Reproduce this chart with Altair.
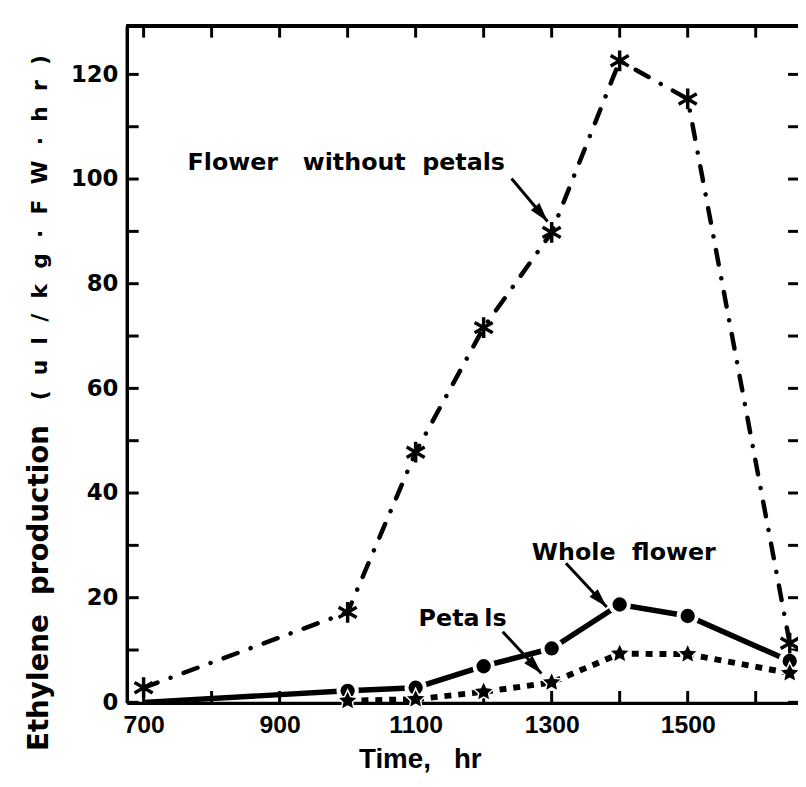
import math
import altair as alt
import pandas as pd

# ---------------- data ----------------
fwp_time = [700, 1000, 1100, 1200, 1300, 1400, 1500, 1650]
fwp_value = [2.8, 17.2, 47.8, 71.6, 89.8, 122.6, 115.3, 11.3]

whole_time = [700, 1000, 1100, 1200, 1300, 1400, 1500, 1650]
whole_value = [0, 2.2, 2.8, 6.9, 10.3, 18.7, 16.5, 7.9]
whole_marker = [False, True, True, True, True, True, True, True]

petals_time = [1000, 1100, 1200, 1300, 1400, 1500, 1650]
petals_value = [0.3, 0.6, 2.0, 3.8, 9.3, 9.2, 5.6]

x_tick_labels = [700, 900, 1100, 1300, 1500]
x_ticks = [700, 800, 900, 1000, 1100, 1200, 1300, 1400, 1500, 1600]
y_tick_labels = [0, 20, 40, 60, 80, 100, 120]
y_ticks = [0, 10, 20, 30, 40, 50, 60, 70, 80, 90, 100, 110, 120]

NB = "\u00a0"
SP = "\u2002\u2009"
ann_text = ["Flower" + NB * 3 + "without" + NB * 2 + "petals", "Whole" + NB * 2 + "flower", "Peta" + "\u2009" + "ls"]
ann_x = [998, 1406, 1169]
ann_y = [103.1, 28.5, 15.9]

arrow_x1 = [1241, 1321, 1228]
arrow_y1 = [100.1, 26.6, 13.5]
arrow_x2 = [1294, 1381, 1285]
arrow_y2 = [91.9, 18.2, 5.5]

ytitle_main = "Ethylene" + NB * 2 + "production"
ytitle_unit = SP.join(["(", "u", "l", "/", "k", "g", "·", "F", "W", "·", "h", "r", ")"])
xtitle = "Time," + NB * 3 + "hr"

# ---------------- layout ----------------
W, H = 678, 684
X_DOM = [675.3, 1662.2]
Y_DOM = [-0.1, 129.3]
PXX = W / (X_DOM[1] - X_DOM[0])
PXY = H / (Y_DOM[1] - Y_DOM[0])

xs = alt.Scale(domain=X_DOM, nice=False, zero=False)
ys = alt.Scale(domain=Y_DOM, nice=False, zero=False)

x_axis = alt.Axis(orient="bottom", values=x_tick_labels, ticks=False, tickSize=0, grid=False,
                  domainColor="black", domainWidth=3.5, labelFont="Liberation Sans",
                  labelFontWeight="bold", labelFontSize=25, labelColor="black",
                  labelPadding=22, labelBaseline="middle", labelFlush=False, format="d",
                  title=xtitle, titleFont="Liberation Sans", titleFontWeight="bold",
                  titleFontSize=28, titleColor="black", titleX=296, titleY=57,
                  titleBaseline="middle", titleAlign="center")
y_axis = alt.Axis(orient="left", values=y_tick_labels, ticks=False, tickSize=0, grid=False,
                  domainColor="black", domainWidth=3.5, labelFont="DejaVu Sans",
                  labelFontWeight="bold", labelFontSize=23, labelColor="black",
                  labelPadding=9, labelFlush=False, title=None)


def X(field):
    return alt.X(field, type="quantitative", scale=xs, axis=x_axis)


def Y(field):
    return alt.Y(field, type="quantitative", scale=ys, axis=y_axis)


fwp = pd.DataFrame({"t": fwp_time, "v": fwp_value})
whole = pd.DataFrame({"t": whole_time, "v": whole_value, "m": whole_marker})
pet = pd.DataFrame({"t": petals_time, "v": petals_value})
yt = pd.DataFrame({"v": y_ticks})
xt = pd.DataFrame({"t": x_ticks})
ann = pd.DataFrame({"text": ann_text, "t": ann_x, "v": ann_y})


def angle(x1, y1, x2, y2):
    dx = (x2 - x1) * PXX
    dy = -(y2 - y1) * PXY
    return (math.degrees(math.atan2(dx, -dy)) + 360) % 360


arr = pd.DataFrame({"x1": arrow_x1, "y1": arrow_y1, "x2": arrow_x2, "y2": arrow_y2})
arr["ang"] = [angle(a, b, c, d) for a, b, c, d in zip(arrow_x1, arrow_y1, arrow_x2, arrow_y2)]

# marker shapes (unit paths)
ASTER = "M0,-1L0,1M-0.87,-0.5L0.87,0.5M-0.87,0.5L0.87,-0.5"
pts = []
for k in range(10):
    r = 1.0 if k % 2 == 0 else 0.48
    a = math.radians(-90 + 36 * k)
    pts.append("%.3f,%.3f" % (r * math.cos(a), r * math.sin(a)))
STAR = "M" + "L".join(pts) + "Z"
HEAD = "M0,0L-0.55,1.9L0.55,1.9Z"

# ---------------- layers ----------------
left_ticks = alt.Chart(yt).mark_rule(color="black", strokeWidth=3).encode(
    y=Y("v"), x=alt.value(0), x2=alt.value(12))
right_ticks = alt.Chart(yt).mark_rule(color="black", strokeWidth=3).encode(
    y=Y("v"), x=alt.value(W - 10), x2=alt.value(W))
bottom_ticks = alt.Chart(xt).mark_rule(color="black", strokeWidth=3).encode(
    x=X("t"), y=alt.value(H - 12), y2=alt.value(H))
top_ticks = alt.Chart(xt).mark_rule(color="black", strokeWidth=3).encode(
    x=X("t"), y=alt.value(0), y2=alt.value(12))
top_border = alt.Chart(xt).mark_rule(color="black", strokeWidth=3.5).encode(
    x=alt.value(0), x2=alt.value(W), y=alt.value(0))

fwp_line = alt.Chart(fwp).mark_line(color="black", strokeWidth=4.5, strokeCap="round",
                                    strokeDash=[15, 14, 0.1, 14]).encode(x=X("t"), y=Y("v"))
whole_line = alt.Chart(whole).mark_line(color="black", strokeWidth=5.5).encode(x=X("t"), y=Y("v"))
pet_line = alt.Chart(pet).mark_line(color="black", strokeWidth=6, strokeCap="butt",
                                    strokeDash=[7, 7]).encode(x=X("t"), y=Y("v"))

whole_pts = alt.Chart(whole).transform_filter("datum.m").mark_point(
    shape="circle", filled=True, fill="black", stroke="white", strokeWidth=4,
    size=340, opacity=1).encode(x=X("t"), y=Y("v"))
pet_pts = alt.Chart(pet).mark_point(
    shape=STAR, filled=True, fill="black", stroke="white", strokeWidth=1.5,
    size=480, opacity=1).encode(x=X("t"), y=Y("v"))
fwp_pts = alt.Chart(fwp).mark_point(
    shape=ASTER, filled=False, stroke="black", strokeWidth=3.5, size=440,
    opacity=1).encode(x=X("t"), y=Y("v"))

labels = alt.Chart(ann).mark_text(font="DejaVu Sans", fontWeight="bold", fontSize=24,
                                  color="black", align="center", baseline="middle").encode(
    x=X("t"), y=Y("v"), text="text:N")
arrows = alt.Chart(arr).mark_rule(color="black", strokeWidth=3).encode(
    x=X("x1"), y=Y("y1"), x2="x2:Q", y2="y2:Q")
heads = alt.Chart(arr).mark_point(shape=HEAD, filled=True, fill="black",
                                  size=420, opacity=1).encode(
    x=X("x2"), y=Y("y2"), angle=alt.Angle("ang:Q", scale=None))

ytitle1 = alt.Chart(pd.DataFrame({"s": [ytitle_main]})).mark_text(
    angle=270, font="DejaVu Sans", fontWeight="bold", fontSize=28, color="black",
    align="center", baseline="middle").encode(x=alt.value(-88), y=alt.value(568), text="s:N")
ytitle2 = alt.Chart(pd.DataFrame({"s": [ytitle_unit]})).mark_text(
    angle=270, font="DejaVu Sans", fontWeight="bold", fontSize=22, color="black",
    align="center", baseline="middle").encode(x=alt.value(-88), y=alt.value(204), text="s:N")

chart = alt.layer(
    left_ticks, right_ticks, bottom_ticks, top_ticks, top_border,
    fwp_line, whole_line, pet_line, whole_pts, pet_pts, fwp_pts,
    labels, arrows, heads, ytitle1, ytitle2,
).properties(
    width=W, height=H,
    autosize=alt.AutoSizeParams(type="none"),
    padding={"left": 120, "top": 14, "right": 0, "bottom": 73},
    background="white",
).configure_view(stroke=None)

chart.save("out.html", embed_options={"renderer": "svg", "actions": False})
